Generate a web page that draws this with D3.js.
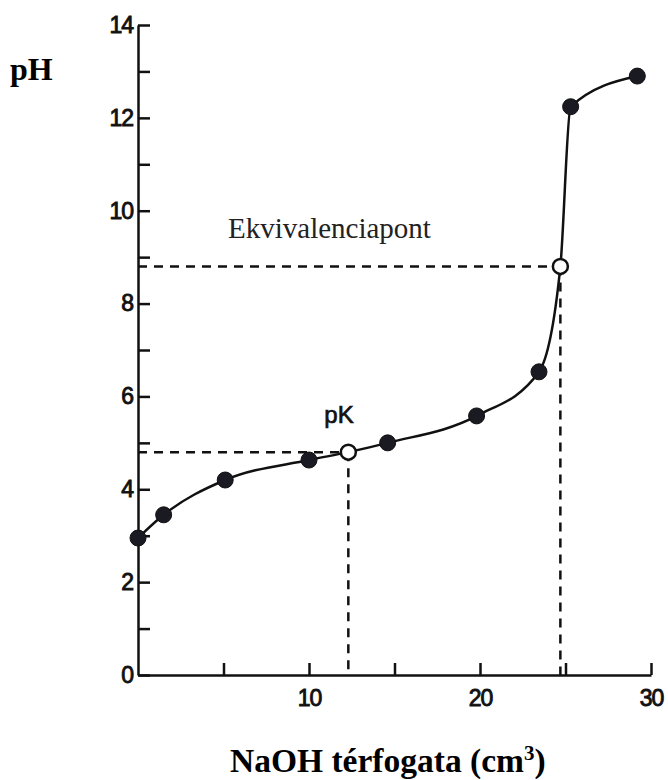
<!DOCTYPE html>
<html>
<head>
<meta charset="utf-8">
<script src="https://cdn.jsdelivr.net/npm/d3@7"></script>
<style>
  body { margin: 0; background: #fff; }
  .tick text { font-family: "Liberation Sans", Arial, sans-serif; font-size: 23px; fill: #111; stroke: #111; stroke-width: 0.9px; letter-spacing: -1px; }
</style>
</head>
<body>
<div id="chart-area"></div>
<script>
// titration curve: NaOH volume (cm3) vs pH
var volume = [0, 1.5, 5.1, 10, 12.3, 14.6, 19.8, 23.45, 24.7, 25.3, 29.2];
var phValues = [2.95, 3.45, 4.2, 4.63, 4.8, 5.0, 5.58, 6.53, 8.8, 12.24, 12.9];
var openPoint = [false, false, false, false, true, false, false, false, true, false, false];

var yMajorTicks = [0, 2, 4, 6, 8, 10, 12, 14];
var yMinorTicks = [1, 3, 5, 7, 9, 11, 13];
var xTicks = [5, 10, 15, 20, 25, 30];
var xLabels = [10, 20, 30];

var pkIndex = 4;
var eqIndex = 8;

var svg = d3.select("#chart-area").append("svg")
    .attr("width", 668)
    .attr("height", 780);

var x = d3.scaleLinear().domain([0, 30]).range([138, 651]);
var y = d3.scaleLinear().domain([0, 14]).range([675, 25]);

var data = volume.map((v, i) => ({ x: v, y: phValues[i], open: openPoint[i] }));

// dashed guide lines
var guides = svg.append("g")
    .attr("stroke", "#111")
    .attr("stroke-width", 2.5)
    .attr("stroke-dasharray", "9,7")
    .attr("fill", "none");

[pkIndex, eqIndex].forEach(i => {
    guides.append("line")
        .attr("x1", x(0)).attr("x2", x(volume[i]))
        .attr("y1", y(phValues[i])).attr("y2", y(phValues[i]));
    guides.append("line")
        .attr("x1", x(volume[i])).attr("x2", x(volume[i]))
        .attr("y1", y(phValues[i])).attr("y2", y(0));
});

// axes
var yAxis = svg.append("g")
    .attr("transform", "translate(" + x(0) + ",0)")
    .call(d3.axisLeft(y).tickValues(yMajorTicks).tickSize(-12).tickSizeOuter(0).tickPadding(5));

svg.append("g")
    .attr("transform", "translate(" + x(0) + ",0)")
    .call(d3.axisLeft(y).tickValues(yMinorTicks).tickSize(-12).tickSizeOuter(0).tickFormat(""))
    .select(".domain").remove();

var xAxis = svg.append("g")
    .attr("transform", "translate(0," + y(0) + ")")
    .call(d3.axisBottom(x).tickValues(xTicks).tickSize(-12).tickSizeOuter(0).tickPadding(10)
        .tickFormat(d => xLabels.indexOf(d) >= 0 ? d : ""));

svg.selectAll(".domain").attr("stroke", "#111").attr("stroke-width", 2.5);
svg.selectAll(".tick line").attr("stroke", "#111").attr("stroke-width", 2.5);
xAxis.selectAll(".tick text").attr("dy", "0.9em");

// curve
var line = d3.line()
    .x(d => x(d.x))
    .y(d => y(d.y))
    .curve(d3.curveMonotoneX);

svg.append("path")
    .datum(data)
    .attr("d", line)
    .attr("fill", "none")
    .attr("stroke", "#111")
    .attr("stroke-width", 2.5);

// points
svg.selectAll(".pt").data(data).enter().append("circle")
    .attr("class", "pt")
    .attr("cx", d => x(d.x))
    .attr("cy", d => y(d.y))
    .attr("r", d => d.open ? 7.5 : 8)
    .attr("fill", d => d.open ? "#fff" : "#1a1a22")
    .attr("stroke", "#111")
    .attr("stroke-width", d => d.open ? 2.5 : 1);

// labels
svg.append("text")
    .attr("x", 10).attr("y", 80)
    .attr("font-family", "'Liberation Serif', 'Times New Roman', serif")
    .attr("font-weight", "bold")
    .attr("font-size", 32)
    .text("pH");

svg.append("text")
    .attr("x", 228).attr("y", 238)
    .attr("font-family", "'Liberation Serif', 'Times New Roman', serif")
    .attr("font-size", 29)
    .attr("fill", "#222")
    .text("Ekvivalenciapont");

svg.append("text")
    .attr("x", x(volume[pkIndex]) - 24).attr("y", 423)
    .attr("font-family", "'Liberation Sans', Arial, sans-serif")
    .attr("font-size", 24)
    .attr("fill", "#111")
    .attr("stroke", "#111")
    .attr("stroke-width", 0.7)
    .text("pK");

var xt = svg.append("text")
    .attr("x", 230).attr("y", 772)
    .attr("font-family", "'Liberation Serif', 'Times New Roman', serif")
    .attr("font-weight", "bold")
    .attr("font-size", 33.5)
    .text("NaOH térfogata (cm");
xt.append("tspan").attr("font-size", 21).attr("dy", -12).text("3");
xt.append("tspan").attr("dy", 12).text(")");
</script>
</body>
</html>
